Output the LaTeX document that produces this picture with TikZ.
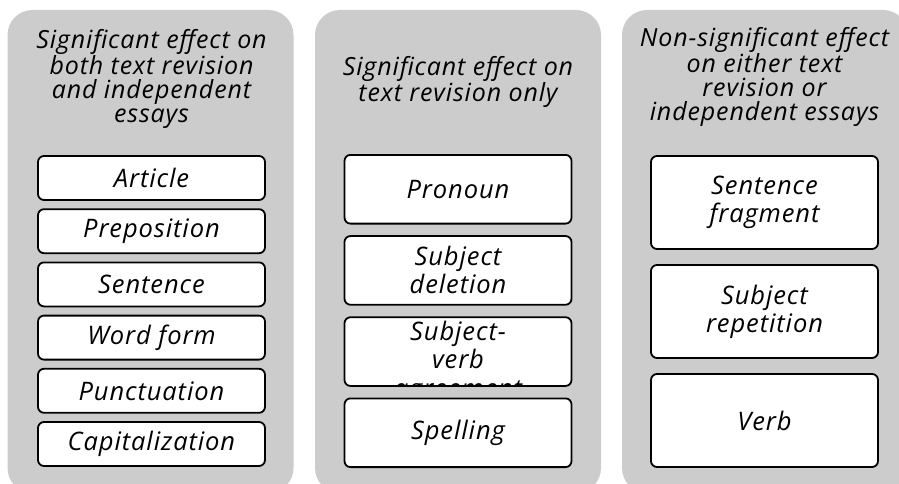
\documentclass[tikz,border=0pt]{standalone}
\usepackage{fontspec}
\setmainfont{Open Sans}[LetterSpace=3.5]
\definecolor{panelgray}{RGB}{204,204,204}
\tikzset{
  panel/.style={fill=panelgray, rounded corners=25pt, minimum width=286pt, minimum height=483pt, inner sep=0pt},
  ttl/.style={font=\fontsize{25}{24}\selectfont\itshape, align=center, text=black, inner sep=0pt},
  itembox/.style={draw=black, fill=white, line width=1.8pt, rounded corners=6pt, minimum width=227pt, inner sep=0pt, font=\fontsize{25.5}{28}\selectfont\itshape, align=center},
  boxtext/.style={font=\fontsize{25.5}{28.5}\selectfont\itshape, align=center, inner sep=0pt},
}
\begin{document}
\begin{tikzpicture}[x=1pt,y=-1pt]
\useasboundingbox (0,0) rectangle (899,484);
\begin{scope}
\clip (0,0) rectangle (899,484);
% panels
\node[panel] (p1) at (150.5,251.5) {};
\node[panel] (p2) at (458,251.5) {};
\node[panel] (p3) at (765,251.5) {};
% titles
\node[ttl] (t1) at (151.5,79) {Significant effect on\\both text revision\\and independent\\essays};
\node[ttl] (t2) at (458,82) {Significant effect on\\text revision only};
\node[ttl] (t3) at (764.5,77) {Non-significant effect\\on either text\\revision or\\independent essays};
% panel 1 boxes
\node[itembox, minimum height=44pt] (a1) at (151.5,178) {Article};
\node[itembox, minimum height=44pt] (a2) at (151.5,231.2) {Preposition};
\node[itembox, minimum height=44pt] (a3) at (151.5,284.4) {Sentence};
\node[itembox, minimum height=44pt] (a4) at (151.5,337.6) {Word form};
\node[itembox, minimum height=44pt] (a5) at (151.5,390.8) {Punctuation};
\node[itembox, minimum height=44pt] (a6) at (151.5,444) {Capitalization};
% panel 2 boxes
\node[itembox, minimum height=68.7pt] (b1) at (458,189.25) {Pronoun};
\node[itembox, minimum height=68.7pt] (b2) at (458,270.4) {Subject\\deletion};
\node[itembox, minimum height=68.7pt] (b3) at (458,351.6) {};
\begin{scope}
  \clip[rounded corners=5pt] ([xshift=1pt,yshift=1pt]b3.south west) rectangle ([xshift=-1pt,yshift=-1pt]b3.north east);
  \node[boxtext] (b3t) at (458,362) {Subject-\\verb\\agreement};
\end{scope}
\node[itembox, minimum height=68.7pt] (b4) at (458,432.75) {Spelling};
% panel 3 boxes
\node[itembox, minimum height=93pt] (c1) at (764.5,202.5) {Sentence\\fragment};
\node[itembox, minimum height=93pt] (c2) at (764.5,311.5) {Subject\\repetition};
\node[itembox, minimum height=93pt] (c3) at (764.5,420.5) {Verb};
\end{scope}
\end{tikzpicture}
\end{document}
